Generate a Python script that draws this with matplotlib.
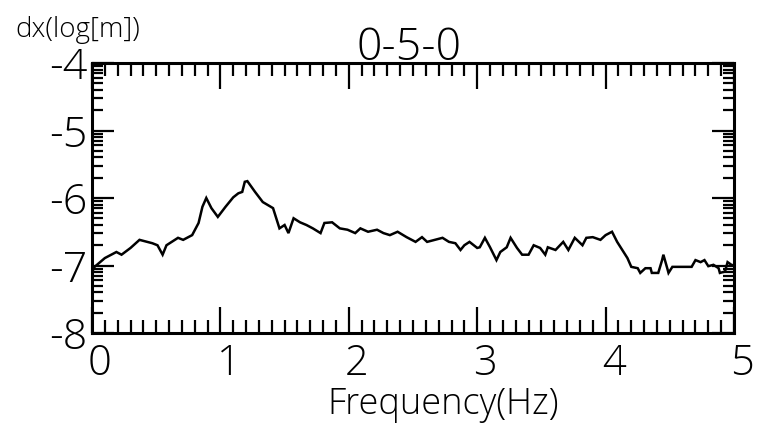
import numpy as np
import matplotlib
matplotlib.use("Agg")
import matplotlib.pyplot as plt
from matplotlib.transforms import ScaledTranslation

# spectrum
freq = [0.00, 0.005, 0.02, 0.10, 0.19, 0.23, 0.30, 0.37, 0.47, 0.51, 0.55, 0.58,
        0.67, 0.71, 0.78, 0.83, 0.86, 0.89, 0.93, 0.98, 1.04, 1.10, 1.14, 1.17,
        1.19, 1.21, 1.27, 1.33, 1.41, 1.44, 1.46, 1.50, 1.53, 1.57, 1.62, 1.67,
        1.72, 1.78, 1.81, 1.87, 1.93, 1.99, 2.05, 2.09, 2.15, 2.22, 2.27, 2.32,
        2.38, 2.45, 2.52, 2.57, 2.61, 2.67, 2.73, 2.78, 2.83, 2.87, 2.90, 2.94,
        3.00, 3.02, 3.06, 3.10, 3.15, 3.18, 3.23, 3.26, 3.31, 3.35, 3.40, 3.44,
        3.49, 3.53, 3.55, 3.61, 3.67, 3.71, 3.76, 3.82, 3.85, 3.90, 3.96, 4.00,
        4.05, 4.09, 4.14, 4.17, 4.20, 4.25, 4.27, 4.31, 4.35, 4.36, 4.41, 4.44,
        4.45, 4.48, 4.49, 4.52, 4.67, 4.70, 4.74, 4.77, 4.80, 4.84, 4.88, 4.89,
        4.93, 4.95, 4.98, 5.00]
dx_log = [-6.42, -7.08, -7.02, -6.89, -6.80, -6.84, -6.74, -6.62, -6.67, -6.70,
          -6.84, -6.70, -6.59, -6.62, -6.55, -6.37, -6.13, -6.00, -6.15, -6.28,
          -6.13, -5.99, -5.93, -5.91, -5.76, -5.75, -5.91, -6.06, -6.15, -6.33,
          -6.45, -6.40, -6.52, -6.30, -6.36, -6.40, -6.45, -6.52, -6.37, -6.36,
          -6.45, -6.47, -6.52, -6.45, -6.50, -6.47, -6.52, -6.55, -6.50, -6.58,
          -6.65, -6.58, -6.65, -6.62, -6.59, -6.65, -6.67, -6.77, -6.70, -6.65,
          -6.74, -6.73, -6.59, -6.73, -6.92, -6.80, -6.73, -6.59, -6.74, -6.84,
          -6.84, -6.70, -6.74, -6.84, -6.73, -6.77, -6.65, -6.77, -6.59, -6.70,
          -6.59, -6.58, -6.62, -6.55, -6.50, -6.65, -6.80, -6.89, -7.02, -7.04,
          -7.11, -7.04, -7.04, -7.11, -7.11, -6.92, -6.84, -7.04, -7.11, -7.02,
          -7.02, -6.92, -6.95, -6.92, -7.01, -6.99, -7.04, -7.11, -7.09, -6.95,
          -6.99, -7.00]

x_ticks = [0, 1, 2, 3, 4, 5]
y_ticks = [-8, -7, -6, -5, -4]
y_tick_labels = ['-8', '-7', '-6', '-5', '-4']

plt.rcParams['font.family'] = ['Open Sans', 'DejaVu Sans']
plt.rcParams['font.weight'] = 300

fig = plt.figure(figsize=(7.66, 4.30), dpi=100)
ax = fig.add_axes([92 / 766, 1 - 333 / 430, 642 / 766, 270 / 430])

ax.plot(freq, dx_log, color='black', lw=1.8, solid_joinstyle='miter')

ax.set_xlim(0, 5)
ax.set_ylim(-8, -4)

ax.set_xticks(x_ticks)
ax.set_xticks(np.arange(0, 5.01, 0.1), minor=True)
ax.set_yticks(y_ticks)
ax.set_yticklabels(y_tick_labels)
# log-spaced minor ticks inside each decade
ax.set_yticks([d + np.log10(k) for d in range(-8, -4) for k in range(2, 10)], minor=True)

ax.tick_params(which='both', direction='in', top=True, right=True, width=1.6,
               color='black')
ax.tick_params(axis='x', which='major', length=19, labelsize=30, pad=7)
ax.tick_params(axis='x', which='minor', length=9.5)
ax.tick_params(axis='y', which='major', length=16, labelsize=31, pad=3)
ax.tick_params(axis='y', which='minor', length=8)

for s in ax.spines.values():
    s.set_linewidth(2.2)

# the x labels sit a little to the right of their ticks in the original
shift = ScaledTranslation(8 / 100, 0, fig.dpi_scale_trans)
for lab in ax.get_xticklabels():
    lab.set_transform(lab.get_transform() + shift)

fig.text(409 / 766, 1 - 60 / 430, '0-5-0', ha='center', va='baseline', fontsize=32)
fig.text(15 / 766, 1 - 37 / 430, 'dx(log[m])', ha='left', va='baseline', fontsize=20)
fig.text(443 / 766, 1 - 414 / 430, 'Frequency(Hz)', ha='center', va='baseline',
         fontsize=26)

fig.savefig('out.png', dpi=100, facecolor='white')
